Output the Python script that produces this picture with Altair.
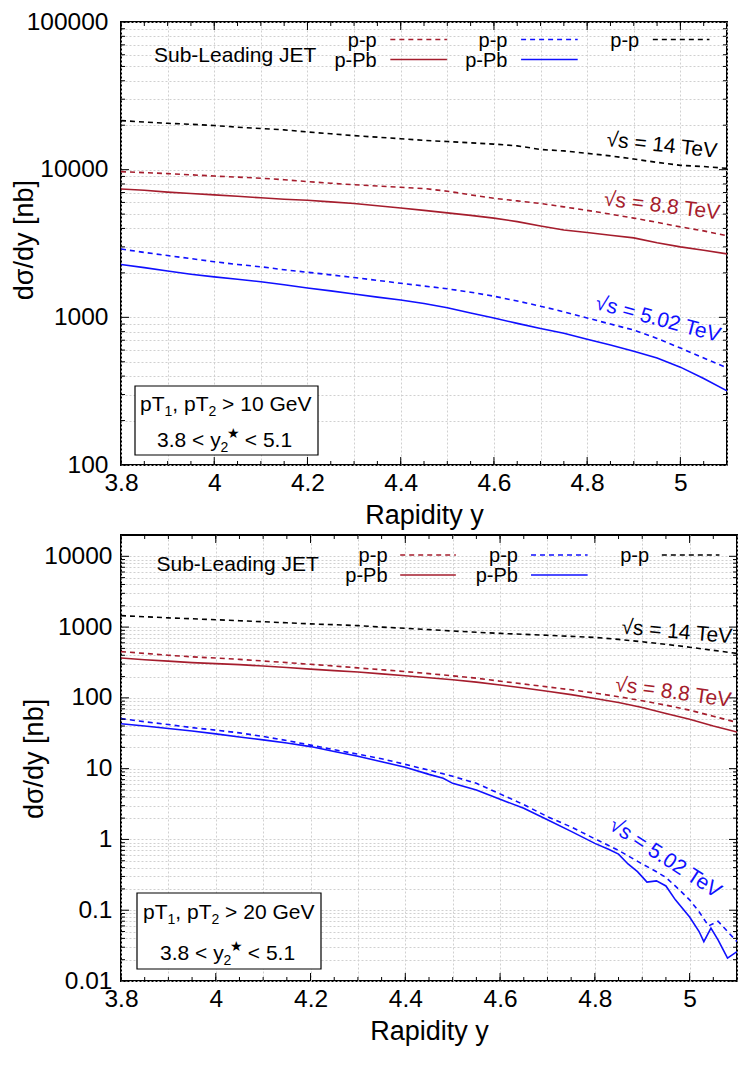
import altair as alt
import pandas as pd

FONT = "Liberation Sans"
RED = "#a51d2d"
BLUE = "#1010ff"
BLACK = "#000000"

# ---------------- data: top panel (pT > 10 GeV) ----------------
X_TOP = [3.80, 3.85, 3.90, 3.95, 4.00, 4.05, 4.10, 4.15, 4.20, 4.25, 4.30, 4.35, 4.40,
         4.45, 4.50, 4.55, 4.60, 4.65, 4.70, 4.75, 4.80, 4.85, 4.90, 4.95, 5.00, 5.05, 5.10]
TOP_PP_14 = [21500, 21000, 20600, 20300, 19900, 19400, 19000, 18600, 18000, 17500, 17000, 16600, 16200,
             15800, 15500, 15200, 14900, 14500, 13700, 13400, 12900, 12400, 11800, 11200, 10700, 10500, 10200]
TOP_PP_88 = [9700, 9550, 9400, 9230, 9050, 8900, 8750, 8550, 8300, 8100, 7900, 7750, 7600,
             7450, 7150, 6750, 6400, 6150, 5900, 5600, 5300, 5000, 4700, 4400, 4100, 3850, 3570]
TOP_PPB_88 = [7400, 7250, 7050, 6900, 6750, 6600, 6450, 6300, 6200, 6050, 5900, 5700, 5500,
              5300, 5100, 4900, 4700, 4450, 4150, 3900, 3750, 3600, 3450, 3200, 3000, 2850, 2690]
TOP_PP_502 = [2900, 2750, 2620, 2500, 2380, 2280, 2200, 2100, 2020, 1940, 1860, 1780, 1700,
              1630, 1560, 1480, 1390, 1290, 1190, 1090, 990, 900, 820, 720, 620, 530, 455]
TOP_PPB_502 = [2280, 2170, 2060, 1960, 1880, 1810, 1740, 1660, 1580, 1510, 1440, 1370, 1310,
               1240, 1160, 1070, 990, 910, 840, 780, 710, 650, 590, 530, 460, 385, 318]

# ---------------- data: bottom panel (pT > 20 GeV) ----------------
X_BOT = X_TOP
BOT_PP_14 = [1450, 1400, 1350, 1310, 1270, 1230, 1190, 1150, 1110, 1080, 1050, 1000, 960,
             920, 880, 845, 815, 790, 765, 740, 715, 670, 620, 570, 520, 470, 425]
BOT_PP_88 = [450, 425, 400, 380, 365, 350, 332, 315, 298, 282, 265, 250, 235,
             220, 205, 190, 172, 157, 143, 130, 117, 104, 91, 79, 67, 55, 45]
BOT_PPB_88 = [365, 345, 330, 315, 305, 295, 282, 268, 255, 243, 232, 218, 205,
              192, 180, 167, 152, 138, 124, 111, 98, 86, 73, 60, 50, 40, 33]
X_BOT_PP_502 = [3.80, 3.85, 3.90, 3.95, 4.00, 4.05, 4.10, 4.15, 4.20, 4.25, 4.30, 4.35, 4.40,
                4.45, 4.50, 4.55, 4.60, 4.65, 4.70, 4.75, 4.80, 4.85, 4.90, 4.93, 4.95, 4.98,
                5.00, 5.02, 5.04, 5.06, 5.08, 5.10]
BOT_PP_502 = [51, 46, 42, 38, 35, 32, 28.5, 25, 21.5, 18.5, 16, 13.8, 11.5,
              9.5, 7.8, 6.2, 4.4, 3.1, 2.1, 1.5, 1.02, 0.70, 0.45, 0.35, 0.29, 0.19,
              0.14, 0.095, 0.06, 0.07, 0.05, 0.036]
X_BOT_PPB_502 = [3.80, 3.85, 3.90, 3.95, 4.00, 4.05, 4.10, 4.15, 4.20, 4.25, 4.30, 4.35, 4.40,
                 4.45, 4.48, 4.50, 4.55, 4.60, 4.65, 4.70, 4.75, 4.80, 4.83, 4.85, 4.87, 4.89,
                 4.91, 4.93, 4.95, 4.97, 5.00, 5.02, 5.03, 5.045, 5.06, 5.08, 5.10]
BOT_PPB_502 = [43, 40, 37, 34, 31, 28, 25.5, 23, 20.5, 17.5, 15, 12.5, 10.5,
               8.3, 7.3, 6.2, 5.0, 3.7, 2.75, 1.9, 1.3, 0.88, 0.72, 0.62, 0.45, 0.35,
               0.25, 0.26, 0.22, 0.14, 0.08, 0.05, 0.036, 0.056, 0.038, 0.021, 0.026]

# ---------------- tick positions ----------------
X_MAJOR = [3.8, 4.0, 4.2, 4.4, 4.6, 4.8, 5.0]
X_MINOR = [round(3.8 + 0.05 * i, 2) for i in range(27)]
Y_MAJOR_TOP = [100, 1000, 10000, 100000]
Y_MINOR_TOP = [m * 10 ** k for k in range(2, 5) for m in range(2, 10)]
Y_MAJOR_BOT = [0.01, 0.1, 1, 10, 100, 1000, 10000]
Y_MINOR_BOT = [round(m * 10.0 ** k, 6) for k in range(-2, 4) for m in range(2, 10)]

ONE = alt.Data(values=[{"k": 0}])

X_LABEL_EXPR = "(abs(datum.value*5 - round(datum.value*5)) < 1e-6) ? format(datum.value, '~g') : ''"
Y_LABEL_EXPR = "(abs(log(datum.value)/LN10 - round(log(datum.value)/LN10)) < 1e-6) ? format(datum.value, '~g') : ''"

LBL = 24.5   # tick label font size
TTL = 27     # axis title font size


def txt(x, y, s, size=21, color=BLACK, angle=0, align="left", baseline="middle"):
    return alt.Chart(ONE).mark_text(
        text=s, font=FONT, fontSize=size, color=color, angle=angle,
        align=align, baseline=baseline
    ).encode(x=alt.value(x), y=alt.value(y))


def hrule(x1, x2, y, color, dash=None, width=1.6):
    kw = dict(color=color, strokeWidth=width)
    if dash:
        kw["strokeDash"] = dash
    return alt.Chart(ONE).mark_rule(**kw).encode(x=alt.value(x1), x2=alt.value(x2), y=alt.value(y))


def panel(W, H, ydom, ymaj, ymin, series, lbl_labelpad, deco):
    xs = alt.X("x:Q", scale=alt.Scale(domain=[3.8, 5.1], nice=False, zero=False),
               axis=alt.Axis(values=X_MINOR, labelExpr=X_LABEL_EXPR, grid=True,
                             gridDash=[2, 2], gridColor="#d0d0d0", gridWidth=1,
                             ticks=False, domain=False, labelFontSize=LBL, labelPadding=6,
                             labelFlush=False, labelOverlap=False,
                             title="Rapidity y", titleFontSize=TTL, titlePadding=8,
                             titleFontWeight="normal"))
    ys = alt.Y("y:Q", scale=alt.Scale(type="log", domain=ydom, nice=False),
               axis=alt.Axis(values=sorted(ymaj + ymin), labelExpr=Y_LABEL_EXPR, grid=True,
                             gridDash=[2, 2], gridColor="#d0d0d0", gridWidth=1,
                             ticks=False, domain=False, labelFontSize=LBL,
                             labelPadding=lbl_labelpad, labelOverlap=False, title=None))
    layers = []
    first = True
    for xv, yv, color, dash in series:
        df = pd.DataFrame({"x": xv, "y": yv})
        kw = dict(color=color, strokeWidth=1.6, clip=True)
        if dash:
            kw["strokeDash"] = dash
        if first:
            layers.append(alt.Chart(df).mark_line(**kw).encode(x=xs, y=ys))
            first = False
        else:
            layers.append(alt.Chart(df).mark_line(**kw).encode(x="x:Q", y="y:Q"))
    # inward ticks on all four sides
    for vals, L in ((X_MAJOR, 8), (X_MINOR, 4)):
        d = pd.DataFrame({"x": vals})
        layers.append(alt.Chart(d).mark_rule(color=BLACK, strokeWidth=1).encode(
            x="x:Q", y=alt.value(H), y2=alt.value(H - L)))
        layers.append(alt.Chart(d).mark_rule(color=BLACK, strokeWidth=1).encode(
            x="x:Q", y=alt.value(0), y2=alt.value(L)))
    for vals, L in ((ymaj, 8), (ymin, 4)):
        d = pd.DataFrame({"y": vals})
        layers.append(alt.Chart(d).mark_rule(color=BLACK, strokeWidth=1).encode(
            y="y:Q", x=alt.value(0), x2=alt.value(L)))
        layers.append(alt.Chart(d).mark_rule(color=BLACK, strokeWidth=1).encode(
            y="y:Q", x=alt.value(W - 0.5), x2=alt.value(W - L)))
    layers += deco
    return alt.layer(*layers).properties(width=W, height=H)


DASH = [5, 4]
SP = 5.8  # width of a space at 21px

# ---------------- top panel ----------------
W1, H1 = 606, 443
fx1 = W1 / 621.0
f1 = H1 / 451.0
top_series = [
    (X_TOP, TOP_PP_14, BLACK, DASH),
    (X_TOP, TOP_PP_88, RED, DASH),
    (X_TOP, TOP_PPB_88, RED, None),
    (X_TOP, TOP_PP_502, BLUE, DASH),
    (X_TOP, TOP_PPB_502, BLUE, None),
]
top_deco = [
    txt(-96, 222 * f1, "dσ/dy [nb]", size=TTL, angle=270, align="center"),
    txt(33, 34, "Sub-Leading JET"),
    txt(262 * fx1, 18.5, "p-p", size=20, align="right"), txt(262 * fx1, 39, "p-Pb", size=20, align="right"),
    hrule(276 * fx1, 334 * fx1, 17.5, RED, DASH), hrule(276 * fx1, 334 * fx1, 37.5, RED),
    txt(396 * fx1, 18.5, "p-p", size=20, align="right"), txt(396 * fx1, 39, "p-Pb", size=20, align="right"),
    hrule(410 * fx1, 468 * fx1, 17.5, BLUE, DASH), hrule(410 * fx1, 468 * fx1, 37.5, BLUE),
    txt(531 * fx1, 18.5, "p-p", size=20, align="right"),
    hrule(545 * fx1, 603 * fx1, 17.5, BLACK, DASH),
    txt(W1 - 10, 132 * f1, "√s = 14 TeV", angle=6, align="right"),
    txt(W1 - 7, 195 * f1, "√s = 8.8 TeV", color=RED, angle=7, align="right"),
    txt(W1 - 7, 320 * f1, "√s = 5.02 TeV", color=BLUE, angle=15, align="right"),
    alt.Chart(ONE).mark_rect(fill="white", stroke=BLACK, strokeWidth=1.2).encode(
        x=alt.value(14), x2=alt.value(197), y=alt.value(H1 - 79), y2=alt.value(H1 - 10)),
    txt(19, H1 - 54, "pT", baseline="alphabetic"),
    txt(43.5, H1 - 49, "1", size=14, baseline="alphabetic"),
    txt(51.3, H1 - 54, ", pT", baseline="alphabetic"),
    txt(87.5, H1 - 49, "2", size=14, baseline="alphabetic"),
    txt(95.3 + SP, H1 - 54, "> 10 GeV", baseline="alphabetic"),
    txt(36, H1 - 18, "3.8 < y", baseline="alphabetic"),
    txt(99.6, H1 - 13, "2", size=14, baseline="alphabetic"),
    txt(106, H1 - 27, "★", size=14, baseline="alphabetic"),
    txt(118 + SP, H1 - 18, "< 5.1", baseline="alphabetic"),
]
top = panel(W1, H1, [100, 100000], Y_MAJOR_TOP, Y_MINOR_TOP, top_series, 13, top_deco)

# ---------------- bottom panel ----------------
W2, H2 = 616, 446
fx2 = W2 / 631.0
f2 = H2 / 454.0
bot_series = [
    (X_BOT, BOT_PP_14, BLACK, DASH),
    (X_BOT, BOT_PP_88, RED, DASH),
    (X_BOT, BOT_PPB_88, RED, None),
    (X_BOT_PP_502, BOT_PP_502, BLUE, DASH),
    (X_BOT_PPB_502, BOT_PPB_502, BLUE, None),
]
bot_deco = [
    txt(-86, 228 * f2, "dσ/dy [nb]", size=TTL, angle=270, align="center"),
    txt(35.5, 29.5, "Sub-Leading JET"),
    txt(273 * fx2, 20.5, "p-p", size=20, align="right"), txt(273 * fx2, 41, "p-Pb", size=20, align="right"),
    hrule(286 * fx2, 343 * fx2, 20, RED, DASH), hrule(286 * fx2, 343 * fx2, 40, RED),
    txt(406.6 * fx2, 20.5, "p-p", size=20, align="right"), txt(406.6 * fx2, 41, "p-Pb", size=20, align="right"),
    hrule(420 * fx2, 478 * fx2, 20, BLUE, DASH), hrule(420 * fx2, 478 * fx2, 40, BLUE),
    txt(541 * fx2, 20.5, "p-p", size=20, align="right"),
    hrule(554 * fx2, 613 * fx2, 20, BLACK, DASH),
    txt(W2 - 5, 104 * f2, "√s = 14 TeV", angle=5, align="right"),
    txt(W2 - 6, 169 * f2, "√s = 8.8 TeV", color=RED, angle=8, align="right"),
    txt(W2 - 18, 365 * f2, "√s = 5.02 TeV", color=BLUE, angle=33, align="right"),
    alt.Chart(ONE).mark_rect(fill="white", stroke=BLACK, strokeWidth=1.2).encode(
        x=alt.value(16), x2=alt.value(200), y=alt.value(H2 - 88), y2=alt.value(H2 - 12)),
    txt(22, H2 - 62, "pT", baseline="alphabetic"),
    txt(46.5, H2 - 57, "1", size=14, baseline="alphabetic"),
    txt(54.3, H2 - 62, ", pT", baseline="alphabetic"),
    txt(90.5, H2 - 57, "2", size=14, baseline="alphabetic"),
    txt(98.3 + SP, H2 - 62, "> 20 GeV", baseline="alphabetic"),
    txt(39, H2 - 21, "3.8 < y", baseline="alphabetic"),
    txt(102.6, H2 - 16, "2", size=14, baseline="alphabetic"),
    txt(109, H2 - 30, "★", size=14, baseline="alphabetic"),
    txt(121 + SP, H2 - 21, "< 5.1", baseline="alphabetic"),
]
bot = panel(W2, H2, [0.01, 20000], Y_MAJOR_BOT, Y_MINOR_BOT, bot_series, 9, bot_deco)

chart = alt.vconcat(top, bot, spacing=3).properties(
    padding={"left": 2, "top": 0, "right": 0, "bottom": 0}
).configure_view(
    stroke="black", strokeWidth=2
).configure_axis(
    labelFont=FONT, titleFont=FONT, labelColor="black", titleColor="black"
)

chart.save("out.html", embed_options={"renderer": "svg", "actions": False})
